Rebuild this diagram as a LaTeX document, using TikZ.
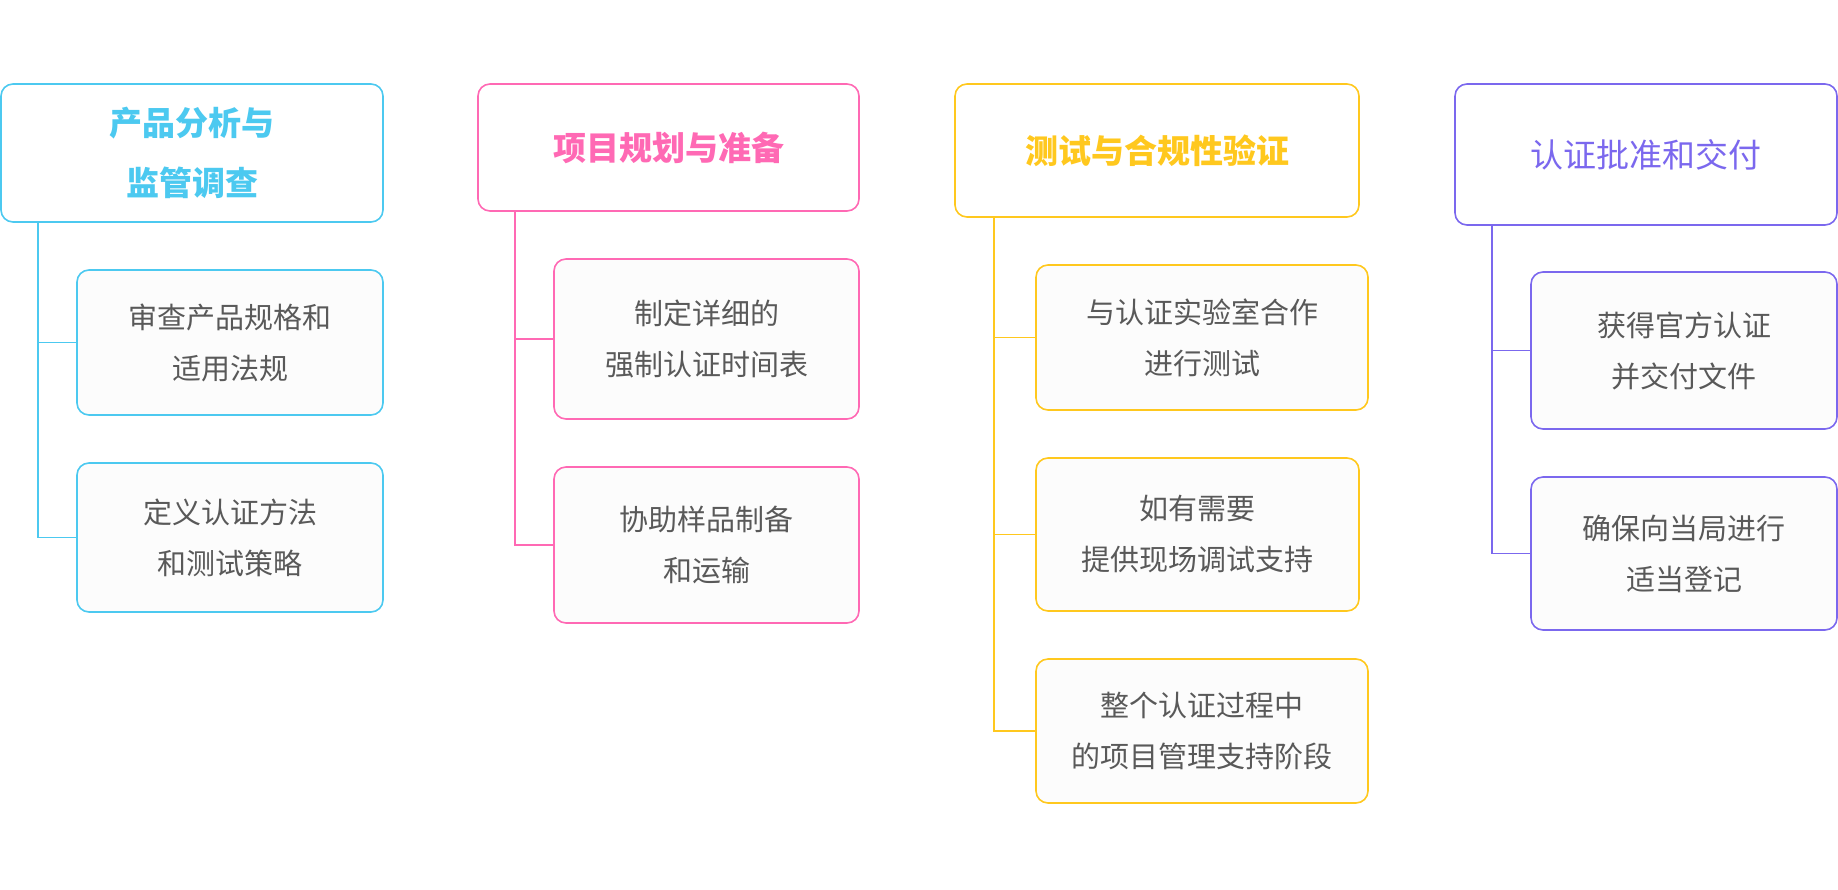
\documentclass[tikz,border=0pt]{standalone}
\usepackage{fontspec}
\setmainfont{Noto Sans CJK SC}
\definecolor{cyanline}{HTML}{4CC9F0}
\definecolor{pinkline}{HTML}{FF69B4}
\definecolor{goldline}{HTML}{FFC81E}
\definecolor{purpleline}{HTML}{7B68EE}
\definecolor{txtgray}{HTML}{595959}

\begin{document}
\begin{tikzpicture}[x=1pt,y=-1pt,
    box/.style={draw=#1,rounded corners=12pt,line width=1.6pt,fill=white,inner sep=0pt,align=center},
    head/.style={box=#1,text=#1,font=\fontsize{33}{60}\selectfont},
    sub/.style={box=#1,fill=black!1,text=txtgray,font=\fontsize{29}{51}\selectfont},
    link/.style={draw=#1,line width=1.6pt}]
                \useasboundingbox (0,0) rectangle (1838,889);

                \node[head=cyanline,minimum width=382pt,minimum height=138pt] (t1) at (192,153) {\bfseries 产品分析与\\\bfseries 监管调查};
                \node[sub=cyanline,minimum width=306pt,minimum height=145pt] (s11) at (230,342.5) {审查产品规格和\\适用法规};
                \node[sub=cyanline,minimum width=306pt,minimum height=149pt] (s12) at (230,537.5) {定义认证方法\\和测试策略};
                \draw[link=cyanline] ([xshift=38pt]t1.south west) |- (s11.west);
                \draw[link=cyanline] ([xshift=38pt]t1.south west) |- (s12.west);

                \node[head=pinkline,minimum width=381pt,minimum height=127pt] (t2) at (668.5,147.5) {\bfseries 项目规划与准备};
                \node[sub=pinkline,minimum width=305pt,minimum height=160pt] (s21) at (706.5,339) {制定详细的\\强制认证时间表};
                \node[sub=pinkline,minimum width=305pt,minimum height=156pt] (s22) at (706.5,545) {协助样品制备\\和运输};
                \draw[link=pinkline] ([xshift=38pt]t2.south west) |- (s21.west);
                \draw[link=pinkline] ([xshift=38pt]t2.south west) |- (s22.west);

                \node[head=goldline,minimum width=404pt,minimum height=133pt] (t3) at (1157,150.5) {\bfseries 测试与合规性验证};
                \node[sub=goldline,minimum width=332pt,minimum height=145pt] (s31) at (1202,337.5) {与认证实验室合作\\进行测试};
                \node[sub=goldline,minimum width=323pt,minimum height=153pt] (s32) at (1197.5,534.5) {如有需要\\提供现场调试支持};
                \node[sub=goldline,minimum width=332pt,minimum height=144pt] (s33) at (1202,731) {整个认证过程中\\的项目管理支持阶段};
                \draw[link=goldline] ([xshift=40pt]t3.south west) |- (s31.west);
                \draw[link=goldline] ([xshift=40pt]t3.south west) |- (s32.west);
                \draw[link=goldline] ([xshift=40pt]t3.south west) |- (s33.west);

                \node[head=purpleline,minimum width=382pt,minimum height=141pt] (t4) at (1646,154.5) {认证批准和交付};
                \node[sub=purpleline,minimum width=306pt,minimum height=157pt] (s41) at (1684,350.5) {获得官方认证\\并交付文件};
                \node[sub=purpleline,minimum width=306pt,minimum height=153pt] (s42) at (1684,553.5) {确保向当局进行\\适当登记};
                \draw[link=purpleline] ([xshift=38pt]t4.south west) |- (s41.west);
                \draw[link=purpleline] ([xshift=38pt]t4.south west) |- (s42.west);
            \end{tikzpicture}
\end{document}
